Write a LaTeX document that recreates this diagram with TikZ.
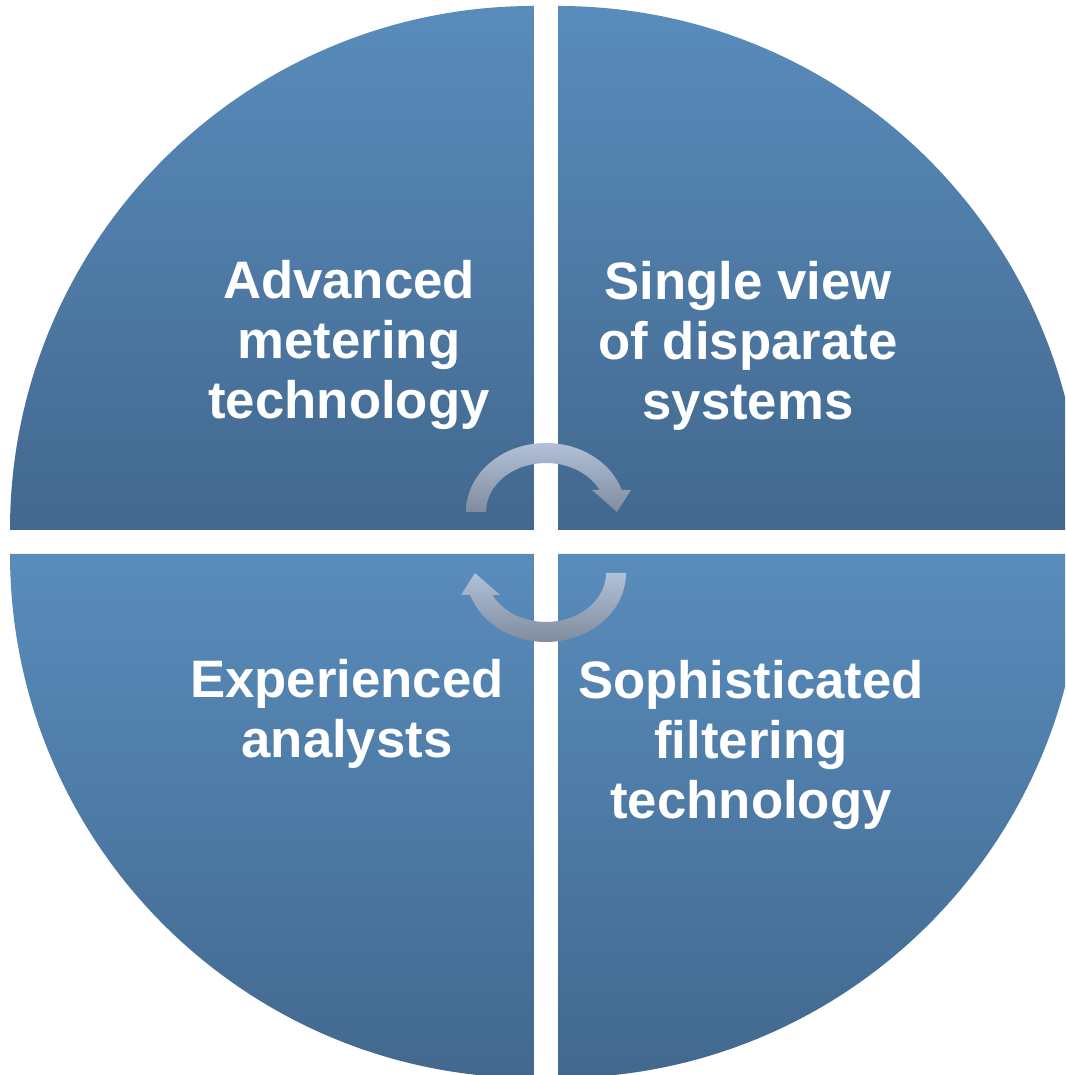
\documentclass[tikz,border=0pt]{standalone}
\usepackage{fontspec}
\setmainfont{Liberation Sans}
\usepackage{xcolor}
\usepackage{tikz}
\definecolor{qtop}{RGB}{89,140,188}
\definecolor{qbot}{RGB}{66,104,142}
\definecolor{arrtop}{RGB}{178,193,216}
\definecolor{arrbot}{RGB}{128,140,158}
\tikzset{
	quad/.style={top color=qtop, bottom color=qbot, draw=none},
	cyclearrow/.style={top color=arrtop, bottom color=arrbot, draw=none},
	label/.style={text=white, align=center, inner sep=0pt, font=\bfseries\fontsize{15}{17.1}\selectfont}
}

\begin{document}
\begin{tikzpicture}
	\clip (0,0) rectangle (10.65,10.75);
	\fill[white] (0,0) rectangle (10.65,10.75);
	
	\coordinate (TL) at (5.34,5.45);
	\coordinate (TR) at (5.58,5.45);
	\coordinate (BL) at (5.34,5.21);
	\coordinate (BR) at (5.58,5.21);
	
	\path[quad] (TL) -- ++(180:5.24) arc[start angle=180, end angle=90, radius=5.24] -- cycle;
	\path[quad] (TR) -- ++(90:5.24) arc[start angle=90, end angle=0, radius=5.24] -- cycle;
	\path[quad] (BL) -- ++(270:5.24) arc[start angle=270, end angle=180, radius=5.24] -- cycle;
	\path[quad] (BR) -- ++(0:5.24) arc[start angle=0, end angle=-90, radius=5.24] -- cycle;
	
	% circular arrows in the middle
	\path[cyclearrow] (4.66,5.63) arc[start angle=180, end angle=18.6, x radius=0.80, y radius=0.69]
		-- (6.31,5.85) -- (6.17,5.63) -- (5.92,5.85) -- (5.996,5.85)
		arc[start angle=26.7, end angle=180, x radius=0.60, y radius=0.49] -- cycle;
	\path[cyclearrow] (6.26,5.02) arc[start angle=0, end angle=-161.4, x radius=0.80, y radius=0.69]
		-- (4.61,4.80) -- (4.75,5.02) -- (5.00,4.80) -- (4.924,4.80)
		arc[start angle=-153.3, end angle=0, x radius=0.60, y radius=0.49] -- cycle;
	
	\node[label] (meter) at (3.49,7.30) {Advanced\\metering\\technology};
	\node[label] (view) at (7.48,7.295) {Single view\\of disparate\\systems};
	\node[label] (analyst) at (3.47,3.615) {Experienced\\analysts};
	\node[label] (filter) at (7.51,3.30) {Sophisticated\\filtering\\technology};
\end{tikzpicture}
\end{document}
